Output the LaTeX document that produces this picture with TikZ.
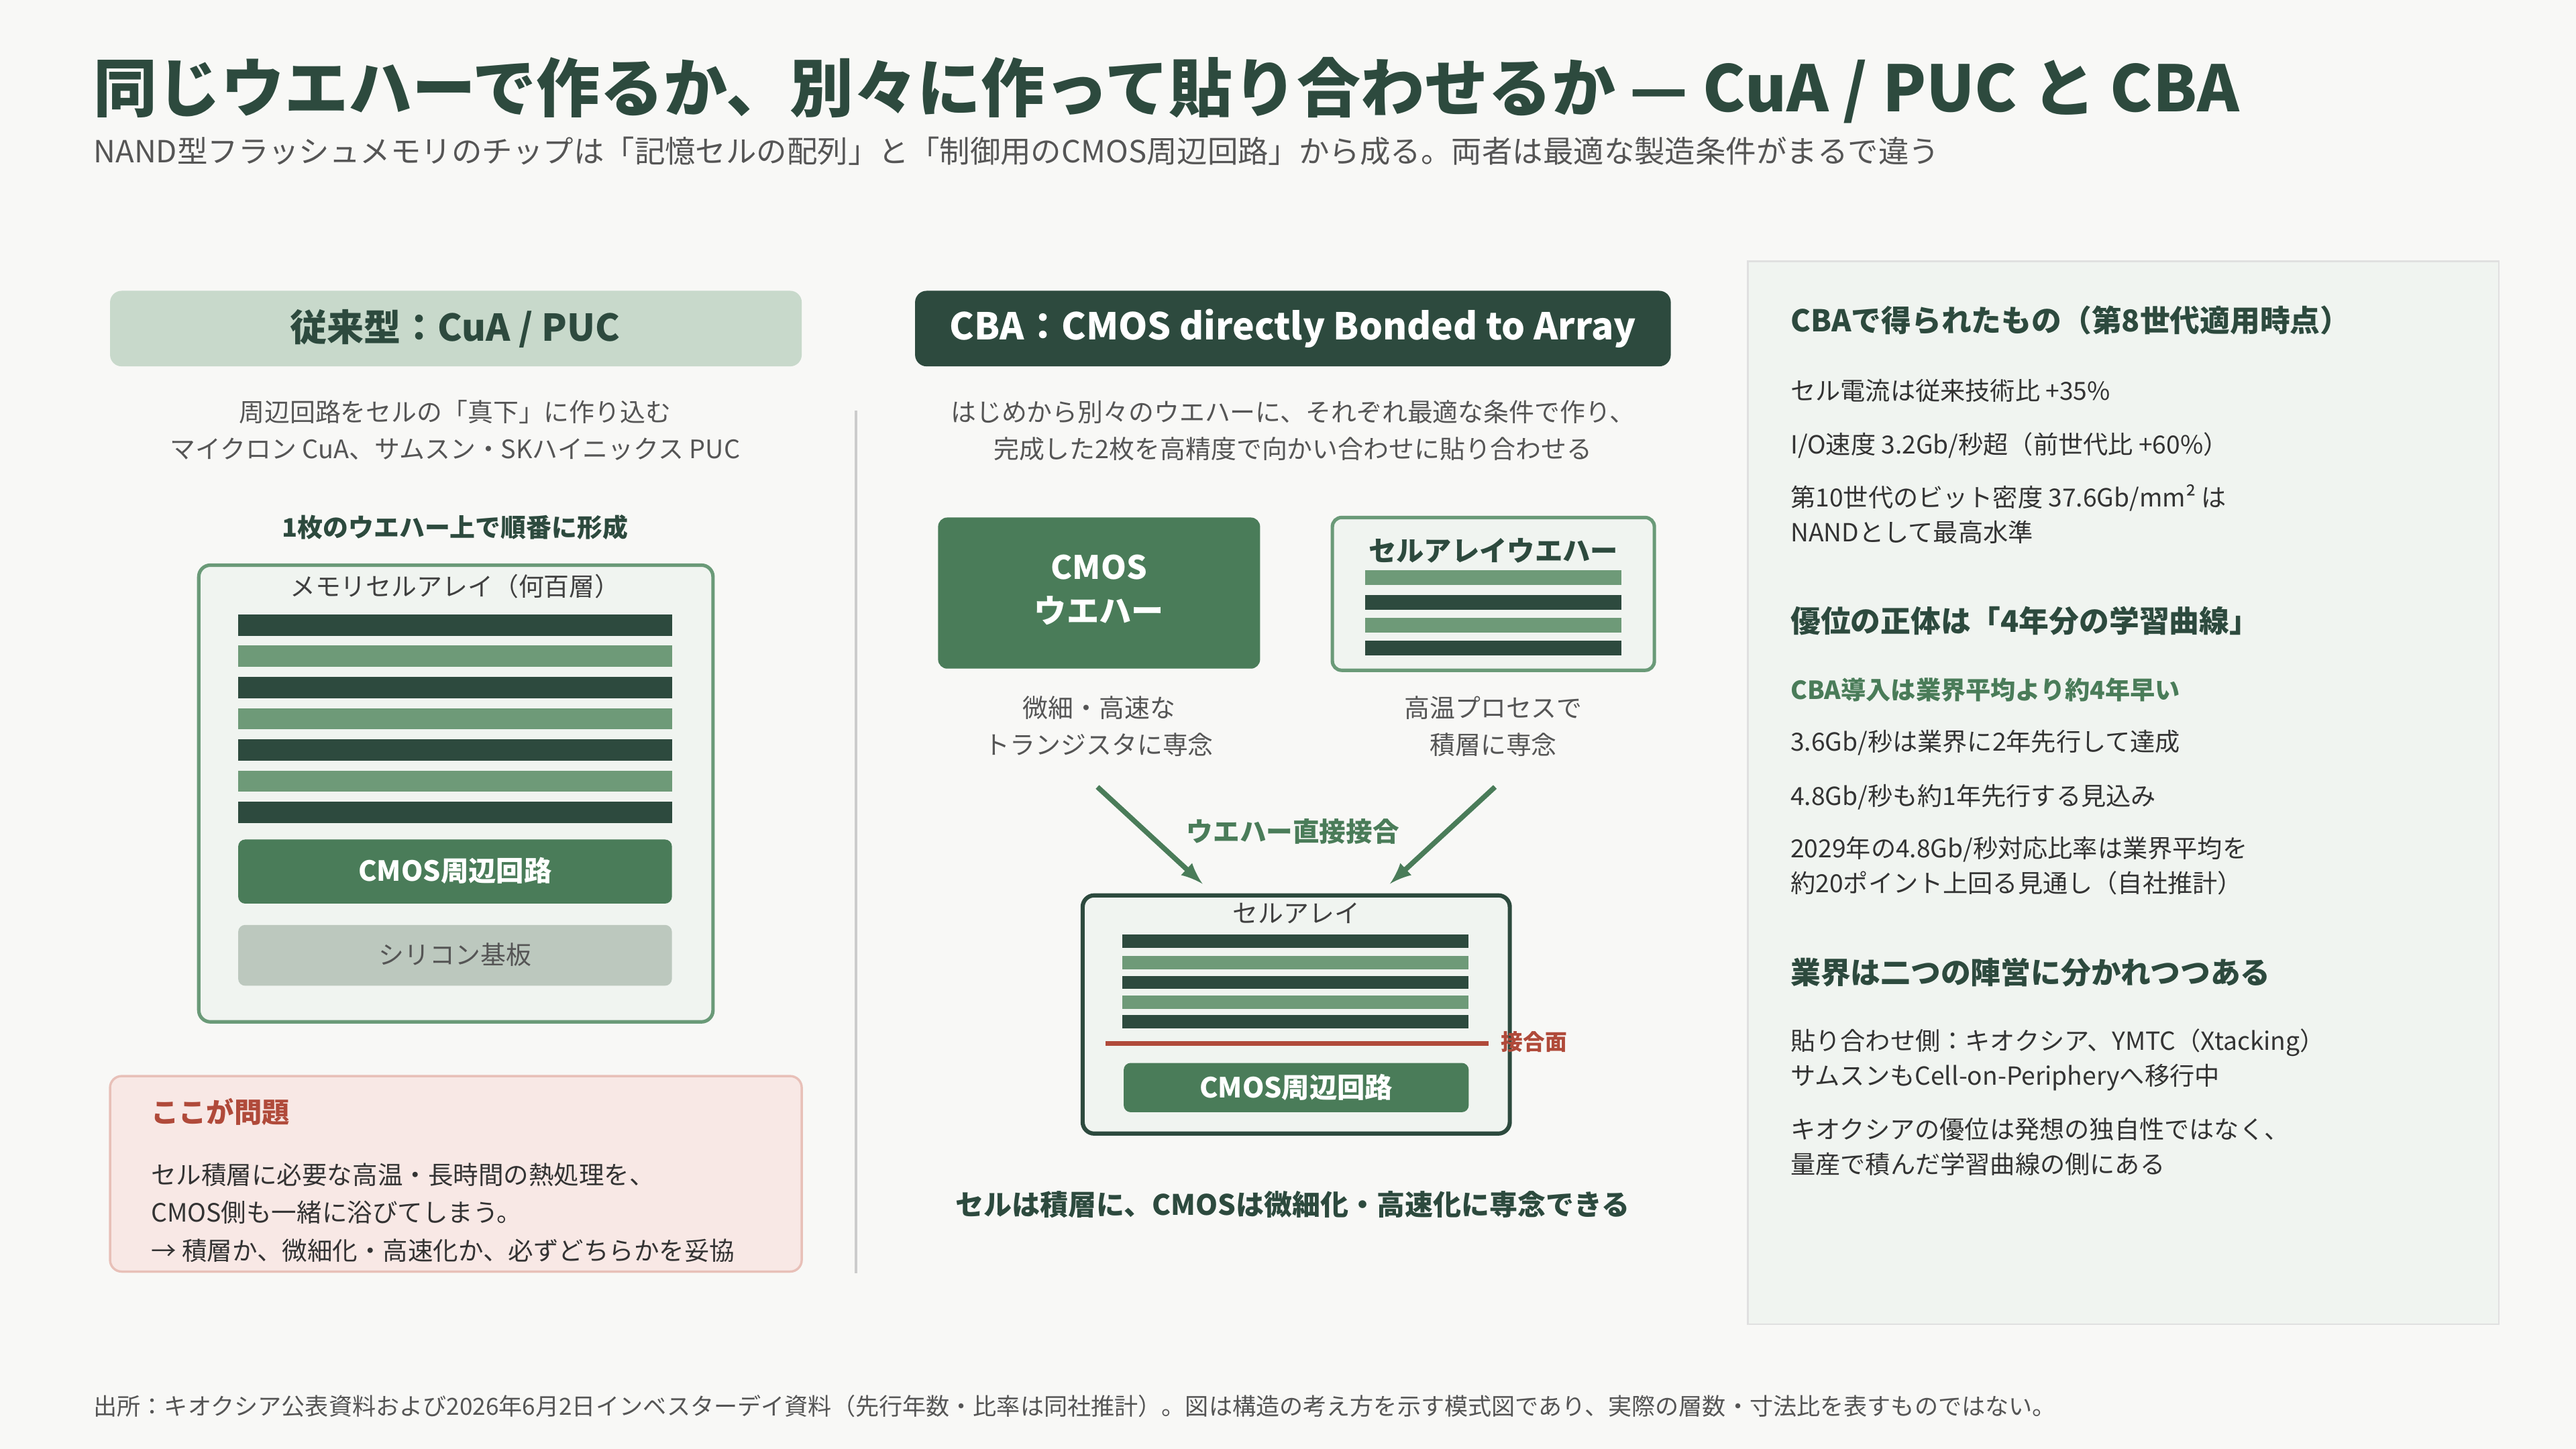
\documentclass[tikz,border=0pt]{standalone}
\usepackage{fontspec}
\setmainfont{Noto Sans CJK JP}
\definecolor{bgpage}{HTML}{F8F8F6}
\definecolor{deepgreen}{HTML}{2D4A3E}
\definecolor{midgreen}{HTML}{4A7C59}
\definecolor{barlight}{HTML}{6E9A78}
\definecolor{palegreen}{HTML}{C8D9CB}
\definecolor{panelbg}{HTML}{F0F4F0}
\definecolor{panelline}{HTML}{6A9A78}
\definecolor{siliconfill}{HTML}{BCC8BE}
\definecolor{warnred}{HTML}{B04A3A}
\definecolor{warnbg}{HTML}{F8E8E5}
\definecolor{warnline}{HTML}{E8C0B8}
\definecolor{textgray}{HTML}{555555}
\begin{document}
\begin{tikzpicture}[x=0.025cm,y=-0.025cm,
    body/.style={font=\fontsize{11}{16}\selectfont, text=textgray, align=center},
    note/.style={font=\fontsize{10.8}{15}\selectfont, text=black!80, anchor=west, align=left},
    heading/.style={font=\fontsize{13}{16}\selectfont\bfseries, text=deepgreen, anchor=west},
    boxtitle/.style={font=\fontsize{16}{19}\selectfont\bfseries},
    darkbar/.style={fill=deepgreen},
    lightbar/.style={fill=barlight},
    cmosbox/.style={fill=midgreen, rounded corners=3pt, text=white, font=\fontsize{12}{17}\selectfont\bfseries, align=center},
    bond/.style={->, >=latex, line width=2.2pt, midgreen}
  ]
  % Hintergrund
  \fill[bgpage] (0,0) rectangle (1568,882);
  \useasboundingbox (0,0) rectangle (1568,882);

  % Titel
  \node[anchor=west, font=\fontsize{27.6}{30}\selectfont\bfseries, text=deepgreen] (title) at (52,55)
    {同じウエハーで作るか、別々に作って貼り合わせるか — CuA / PUC と CBA};
  \node[anchor=west, font=\fontsize{13.2}{15}\selectfont, text=textgray] (subtitle) at (52,92)
    {NAND型フラッシュメモリのチップは「記憶セルの配列」と「制御用のCMOS周辺回路」から成る。両者は最適な製造条件がまるで違う};

  % Links: CuA / PUC
  \fill[palegreen, rounded corners=5pt] (67,177) rectangle (488,223);
  \node[boxtitle, text=deepgreen] (leftHead) at (277,200) {従来型：CuA / PUC};
  \node[body] (leftDesc) at (277,262) {周辺回路をセルの「真下」に作り込む\\マイクロン CuA、サムスン・SKハイニックス PUC};
  \node[font=\fontsize{11}{13}\selectfont\bfseries, text=deepgreen] (leftSub) at (277,321) {1枚のウエハー上で順番に形成};
  \draw[panelline, fill=panelbg, line width=1.5pt, rounded corners=5pt] (121,344) rectangle (434,622);
  \node[body, text=black!75] (leftArray) at (277,357) {メモリセルアレイ（何百層）};
  \foreach \y/\s in {374/darkbar,393/lightbar,412/darkbar,431/lightbar,450/darkbar,469/lightbar,488/darkbar}
    \fill[\s] (145,\y) rectangle (409,\y+13);
  \fill[midgreen, rounded corners=3pt] (145,511) rectangle (409,550);
  \node[cmosbox, fill=none] (leftCmos) at (277,530) {CMOS周辺回路};
  \fill[siliconfill, rounded corners=3pt] (145,563) rectangle (409,600);
  \node[body] (leftSi) at (277,581) {シリコン基板};

  % Problem
  \draw[warnline, fill=warnbg, line width=1pt, rounded corners=5pt] (67,655) rectangle (488,774);
  \node[anchor=west, font=\fontsize{12}{14}\selectfont\bfseries, text=warnred] (probHead) at (87,677) {ここが問題};
  \node[note, font=\fontsize{10.9}{16.4}\selectfont] (probText) at (87,738)
    {セル積層に必要な高温・長時間の熱処理を、\\CMOS側も一緒に浴びてしまう。\\→ 積層か、微細化・高速化か、必ずどちらかを妥協};

  % Trennlinie
  \draw[black!20, line width=1pt] (521,250) -- (521,775);

  % Mitte: CBA
  \fill[deepgreen, rounded corners=5pt] (557,177) rectangle (1017,223);
  \node[boxtitle, text=white] (midHead) at (787,200) {CBA：CMOS directly Bonded to Array};
  \node[body] (midDesc) at (787,262) {はじめから別々のウエハーに、それぞれ最適な条件で作り、\\完成した2枚を高精度で向かい合わせに貼り合わせる};

  \fill[midgreen, rounded corners=4pt] (571,315) rectangle (767,407);
  \node[cmosbox, fill=none, font=\fontsize{14}{19}\selectfont\bfseries] (cmosWafer) at (669,359) {CMOS\\ウエハー};
  \draw[panelline, fill=panelbg, line width=1.5pt, rounded corners=4pt] (811,315) rectangle (1007,408);
  \node[font=\fontsize{12}{14}\selectfont\bfseries, text=deepgreen] (cellWafer) at (909,335) {セルアレイウエハー};
  \foreach \y/\s in {347/lightbar,362/darkbar,376/lightbar,390/darkbar}
    \fill[\s] (831,\y) rectangle (987,\y+9);
  \node[body] (cmosNote) at (669,442) {微細・高速な\\トランジスタに専念};
  \node[body] (cellNote) at (909,442) {高温プロセスで\\積層に専念};

  % Bonding
  \coordinate (arrL) at (668,479);
  \coordinate (arrR) at (910,479);
  \coordinate (tipL) at (732,538);
  \coordinate (tipR) at (846,538);
  \draw[bond] (arrL) -- (tipL);
  \draw[bond] (arrR) -- (tipR);
  \node[font=\fontsize{11.5}{13}\selectfont\bfseries, text=midgreen] (bondLabel) at (787,506) {ウエハー直接接合};

  \draw[deepgreen, fill=panelbg, line width=1.8pt, rounded corners=5pt] (659,545) rectangle (919,690);
  \node[body, text=black!75] (bondArray) at (789,556) {セルアレイ};
  \foreach \y/\s in {569/darkbar,582/lightbar,594/darkbar,606/lightbar,618/darkbar}
    \fill[\s] (683,\y) rectangle (894,\y+8);
  \coordinate (faceL) at (673,635);
  \coordinate (faceR) at (906,635);
  \draw[warnred, line width=2pt] (faceL) -- (faceR);
  \node[anchor=west, font=\fontsize{9.5}{11}\selectfont\bfseries, text=warnred, inner sep=1pt] (faceLabel) at (912,634) {接合面};
  \fill[midgreen, rounded corners=3pt] (684,647) rectangle (894,677);
  \node[cmosbox, fill=none] (bondCmos) at (789,662) {CMOS周辺回路};
  \node[font=\fontsize{12.2}{14}\selectfont\bfseries, text=deepgreen] (midResult) at (787,733) {セルは積層に、CMOSは微細化・高速化に専念できる};

  % Rechts
  \draw[black!12, fill=panelbg, line width=0.8pt] (1064,159) rectangle (1521,806);
  \node[heading] (hA) at (1085,195) {CBAで得られたもの（第8世代適用時点）};
  \node[note] (nA1) at (1085,238) {セル電流は従来技術比 +35\%};
  \node[note] (nA2) at (1085,271) {I/O速度 3.2Gb/秒超（前世代比 +60\%）};
  \node[note] (nA3) at (1085,313) {第10世代のビット密度 37.6Gb/mm² は\\NANDとして最高水準};
  \node[heading] (hB) at (1085,378) {優位の正体は「4年分の学習曲線」};
  \node[note, text=midgreen, font=\fontsize{10.8}{13}\selectfont\bfseries] (nB1) at (1085,420) {CBA導入は業界平均より約4年早い};
  \node[note] (nB2) at (1085,452) {3.6Gb/秒は業界に2年先行して達成};
  \node[note] (nB3) at (1085,485) {4.8Gb/秒も約1年先行する見込み};
  \node[note] (nB4) at (1085,527) {2029年の4.8Gb/秒対応比率は業界平均を\\約20ポイント上回る見通し（自社推計）};
  \node[heading] (hC) at (1085,592) {業界は二つの陣営に分かれつつある};
  \node[note] (nC1) at (1085,645) {貼り合わせ側：キオクシア、YMTC（Xtacking）\\サムスンもCell-on-Peripheryへ移行中};
  \node[note] (nC2) at (1085,698) {キオクシアの優位は発想の独自性ではなく、\\量産で積んだ学習曲線の側にある};

  % Quelle
  \node[anchor=west, font=\fontsize{10.2}{12}\selectfont, text=textgray] (source) at (52,856)
    {出所：キオクシア公表資料および2026年6月2日インベスターデイ資料（先行年数・比率は同社推計）。図は構造の考え方を示す模式図であり、実際の層数・寸法比を表すものではない。};
\end{tikzpicture}
\end{document}
